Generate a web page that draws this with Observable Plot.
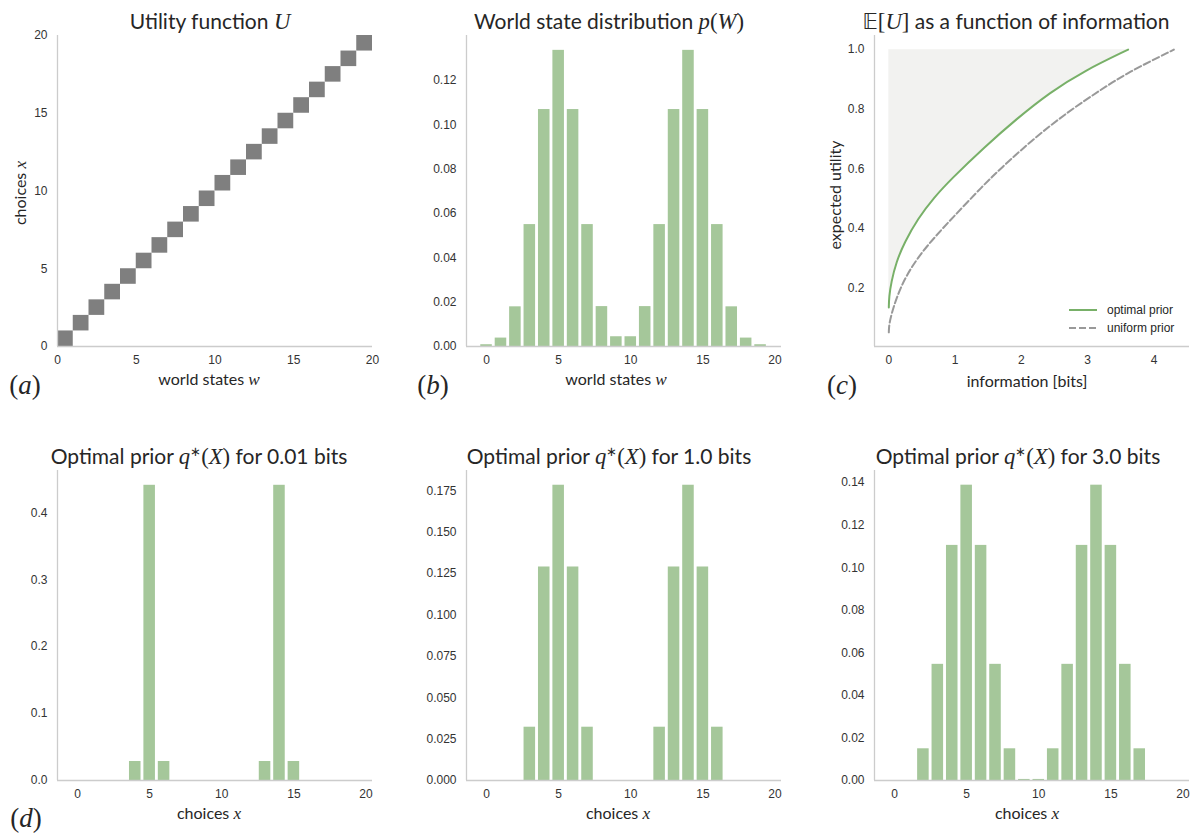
<!DOCTYPE html>
<html>
<head>
<meta charset="utf-8">
<script src="https://cdn.jsdelivr.net/npm/d3@7"></script>
<script src="https://cdn.jsdelivr.net/npm/@observablehq/plot@0.6"></script>
<style>
  html, body { margin: 0; padding: 0; background: #fff; overflow: hidden; }
  #root { position: relative; width: 1192px; height: 834px; background: #fff; }
  #root svg, #root svg text { font-family: "Liberation Sans", Arial, sans-serif !important; font-size: 12px; }
  .lbl { position: absolute; white-space: nowrap; transform: translate(-50%, -50%); line-height: 1; color: #262626; }
  .title { font-family: Lato, "Open Sans", sans-serif; font-size: 21px; }
  .axl { font-family: Lato, "Open Sans", sans-serif; font-size: 16px; }
  .m { font-family: "Liberation Serif", serif; font-style: italic; font-size: 1.08em; }
  .mu { font-family: "Liberation Serif", serif; font-style: normal; font-size: 1.08em; }
  .bb { font-family: "DejaVu Sans", sans-serif; font-style: normal; }
  .letter { font-family: "Liberation Serif", serif; font-size: 27px; }
  .leg { position: absolute; font-family: "Liberation Sans", Arial, sans-serif; font-size: 12px; color: #262626; }
</style>
</head>
<body>
<div id="root"></div>
<script>
// ---------- data ----------
const worldStates = [0,1,2,3,4,5,6,7,8,9,10,11,12,13,14,15,16,17,18,19];
const bestChoice  = [0,1,2,3,4,5,6,7,8,9,10,11,12,13,14,15,16,17,18,19];
const choices     = [0,1,2,3,4,5,6,7,8,9,10,11,12,13,14,15,16,17,18,19];

const pW = [0.0008, 0.0038, 0.0179, 0.0550, 0.1069, 0.1336, 0.1069, 0.0550, 0.0180, 0.0044,
            0.0044, 0.0180, 0.0550, 0.1069, 0.1336, 0.1069, 0.0550, 0.0179, 0.0038, 0.0008];

const q001 = [0, 0, 0, 0, 0.0284, 0.441, 0.0284, 0, 0, 0,
              0, 0, 0, 0.0284, 0.441, 0.0284, 0, 0, 0, 0];
const q10  = [0, 0, 0, 0.0322, 0.129, 0.1784, 0.129, 0.0322, 0, 0,
              0, 0, 0.0322, 0.129, 0.1784, 0.129, 0.0322, 0, 0, 0];
const q30  = [0, 0, 0.0149, 0.0546, 0.1105, 0.1388, 0.1105, 0.0546, 0.0149, 0.0005,
              0.0005, 0.0149, 0.0546, 0.1105, 0.1388, 0.1105, 0.0546, 0.0149, 0, 0];

const optimalInfo = [0, 0.004, 0.036, 0.111, 0.236, 0.437, 0.688, 0.94, 1.43, 1.93, 2.435, 2.94, 3.61];
const optimalEU   = [0.1336, 0.17, 0.218, 0.286, 0.352, 0.432, 0.505, 0.565, 0.670, 0.768, 0.857, 0.928, 1.0];

const uniformInfo = [0, 0.004, 0.036, 0.111, 0.236, 0.437, 0.688, 0.94, 1.43, 1.68, 2.18, 2.69, 3.19, 3.61, 4.30];
const uniformEU   = [0.05, 0.075, 0.108, 0.163, 0.230, 0.302, 0.369, 0.430, 0.545, 0.599, 0.700, 0.789, 0.864, 0.924, 1.0];

const ticks0to20 = [0, 5, 10, 15, 20];

// ---------- helpers ----------
const root = document.getElementById("root");
const GREEN_BAR = "#a5c79a";
const GREEN_LINE = "#78b068";
const SPINE = "#cccccc";
const FW = 315;
const ML = 52, MR = 2, MT = 4, MB = 28;

function panel({left, top, height, x, y, marks}) {
  const svg = Plot.plot({
    width: FW + ML + MR,
    height: height + MT + MB,
    marginLeft: ML, marginRight: MR, marginTop: MT, marginBottom: MB,
    style: { fontFamily: "Liberation Sans, Arial, sans-serif", fontSize: "12px", color: "#333", background: "transparent", overflow: "visible" },
    x: { tickSize: 0, tickPadding: 9, label: null, ...x },
    y: { tickSize: 0, tickPadding: 10, label: null, ...y },
    marks: [
      ...marks,
      Plot.ruleY([y.domain[0]], { stroke: SPINE, strokeWidth: 1.3 }),
      Plot.ruleX([x.domain[0]], { stroke: SPINE, strokeWidth: 1.3 })
    ]
  });
  svg.style.position = "absolute";
  svg.style.left = (left - ML) + "px";
  svg.style.top = (top - MT) + "px";
  root.appendChild(svg);
}

function label(html, cx, cy, cls, rotate) {
  const d = document.createElement("div");
  d.className = "lbl " + cls;
  d.innerHTML = html;
  d.style.left = cx + "px";
  d.style.top = cy + "px";
  if (rotate) d.style.transform = "translate(-50%, -50%) rotate(-90deg)";
  root.appendChild(d);
}

function bars(values) {
  const data = choices.map((c, i) => ({ c, v: values[i] }));
  return Plot.rectY(data, { x1: d => d.c - 0.4, x2: d => d.c + 0.4, y: "v", fill: GREEN_BAR });
}

const intFmt = d3.format("d");
const barX = { domain: [-1.39, 20.45], ticks: ticks0to20, tickFormat: intFmt };

// ---------- (a) utility ----------
panel({
  left: 57, top: 35, height: 311,
  x: { domain: [0, 20], ticks: ticks0to20, tickFormat: intFmt },
  y: { domain: [0, 20], ticks: ticks0to20, tickFormat: intFmt },
  marks: [
    Plot.rect(worldStates, {
      x1: d => d, x2: d => d + 1,
      y1: (d, i) => bestChoice[i], y2: (d, i) => bestChoice[i] + 1,
      fill: "#7f7f7f"
    })
  ]
});

// ---------- (b) p(W) ----------
panel({
  left: 465.5, top: 35, height: 311,
  x: barX,
  y: { domain: [0, 0.1403], ticks: [0, 0.02, 0.04, 0.06, 0.08, 0.10, 0.12], tickFormat: d3.format(".2f") },
  marks: [ bars(pW) ]
});

// ---------- (c) expected utility ----------
const optPts = optimalInfo.map((b, i) => ({ b, u: optimalEU[i] }));
const uniPts = uniformInfo.map((b, i) => ({ b, u: uniformEU[i] }));
panel({
  left: 874, top: 35, height: 311,
  x: { domain: [-0.216, 4.536], ticks: [0, 1, 2, 3, 4], tickFormat: intFmt },
  y: { domain: [0.0025, 1.0475], ticks: [0.2, 0.4, 0.6, 0.8, 1.0], tickFormat: d3.format(".1f") },
  marks: [
    Plot.areaY(optPts, { x: "b", y1: "u", y2: () => 1, fill: "#f2f2f0", curve: "basis" }),
    Plot.line(uniPts, { x: "b", y: "u", stroke: "#999999", strokeWidth: 2, strokeDasharray: "7,3", curve: "basis" }),
    Plot.line(optPts, { x: "b", y: "u", stroke: GREEN_LINE, strokeWidth: 2, curve: "basis" })
  ]
});

// ---------- (d)(e)(f) optimal priors ----------
panel({
  left: 57, top: 470, height: 310,
  x: barX,
  y: { domain: [0, 0.4631], ticks: [0, 0.1, 0.2, 0.3, 0.4], tickFormat: d3.format(".1f") },
  marks: [ bars(q001) ]
});
panel({
  left: 465.5, top: 470, height: 310,
  x: barX,
  y: { domain: [0, 0.1873], ticks: [0, 0.025, 0.05, 0.075, 0.1, 0.125, 0.15, 0.175], tickFormat: d3.format(".3f") },
  marks: [ bars(q10) ]
});
panel({
  left: 874, top: 470, height: 310,
  x: barX,
  y: { domain: [0, 0.1457], ticks: [0, 0.02, 0.04, 0.06, 0.08, 0.10, 0.12, 0.14], tickFormat: d3.format(".2f") },
  marks: [ bars(q30) ]
});

// ---------- titles ----------
label('Utility function <span class="m">U</span>', 210, 22, "title");
label('World state distribution <span class="m">p</span><span class="mu">(</span><span class="m">W</span><span class="mu">)</span>', 609, 22, "title");
label('<span class="bb">𝔼</span><span class="mu">[</span><span class="m">U</span><span class="mu">]</span> as a function of information', 1016, 22, "title");
label('Optimal prior <span class="m">q</span><sup style="font-size:0.6em">∗</sup><span class="mu">(</span><span class="m">X</span><span class="mu">)</span> for 0.01 bits', 199, 457, "title");
label('Optimal prior <span class="m">q</span><sup style="font-size:0.6em">∗</sup><span class="mu">(</span><span class="m">X</span><span class="mu">)</span> for 1.0 bits', 609, 457, "title");
label('Optimal prior <span class="m">q</span><sup style="font-size:0.6em">∗</sup><span class="mu">(</span><span class="m">X</span><span class="mu">)</span> for 3.0 bits', 1018, 457, "title");

// ---------- axis labels ----------
label('world states <span class="m">w</span>', 209, 380, "axl");
label('world states <span class="m">w</span>', 616, 380, "axl");
label('information [bits]', 1027, 381, "axl");
label('choices <span class="m">x</span>', 209, 814, "axl");
label('choices <span class="m">x</span>', 618, 814, "axl");
label('choices <span class="m">x</span>', 1027, 814, "axl");
label('choices <span class="m">x</span>', 21, 193, "axl", true);
label('expected utility', 835, 195, "axl", true);

// ---------- panel letters ----------
label('(<i>a</i>)', 25, 385, "letter");
label('(<i>b</i>)', 433, 385, "letter");
label('(<i>c</i>)', 842, 385, "letter");
label('(<i>d</i>)', 26, 818, "letter");

// ---------- legend (c) ----------
const leg = document.createElement("div");
leg.className = "leg";
leg.style.left = "1068px";
leg.style.top = "301px";
leg.innerHTML = `
  <div style="display:flex;align-items:center;height:18px">
    <svg width="30" height="4" style="margin-right:9px"><line x1="1" y1="2" x2="29" y2="2" stroke="${GREEN_LINE}" stroke-width="2"/></svg>optimal prior</div>
  <div style="display:flex;align-items:center;height:18px">
    <svg width="30" height="4" style="margin-right:9px"><line x1="1" y1="2" x2="29" y2="2" stroke="#999" stroke-width="2" stroke-dasharray="7,3"/></svg>uniform prior</div>`;
root.appendChild(leg);
</script>
</body>
</html>
